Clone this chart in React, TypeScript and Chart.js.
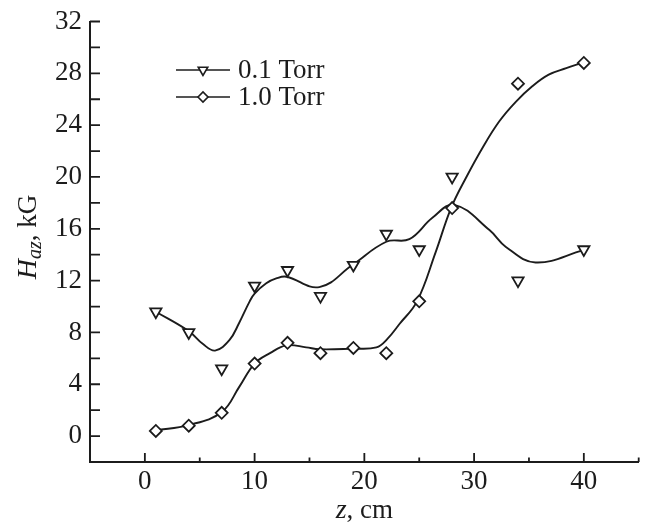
import React, { useEffect, useRef } from "react";
import { Chart, registerables } from "chart.js";

Chart.register(...registerables);

// ---------- data ----------
const SERIES_NAMES = ["0.1 Torr", "1.0 Torr"];
const Z_POINTS = [1, 4, 7, 10, 13, 16, 19, 22, 25, 28, 34, 40];
const H_01 = [9.6, 8.0, 5.2, 11.6, 12.8, 10.8, 13.2, 15.6, 14.4, 20.0, 12.0, 14.4];
const H_10 = [0.4, 0.8, 1.8, 5.6, 7.2, 6.4, 6.8, 6.4, 10.4, 17.6, 27.2, 28.8];

// smooth fit curves
const FIT_01_Z = [1, 4, 5.3, 6.4, 7.7, 8.6, 9.55, 10, 11.06, 11.97, 12.9, 15.9, 18.9, 22, 24.1, 26.2, 28.2, 31.4, 32.9, 35.6, 40];
const FIT_01_H = [9.6, 8.1, 7.1, 6.6, 7.4, 8.75, 10.4, 11.0, 11.8, 12.17, 12.3, 11.5, 13.2, 15.0, 15.2, 16.85, 17.85, 15.9, 14.6, 13.4, 14.35];
const FIT_10_Z = [1, 4, 7, 8.6, 10, 11.4, 12.9, 14.7, 15.9, 18.9, 21.1, 22.1, 23.2, 24.8, 26.5, 27.9, 29.3, 30.8, 32.3, 33.8, 35.3, 36.8, 38.4, 40];
const FIT_10_H = [0.45, 0.85, 1.85, 3.8, 5.6, 6.4, 7.0, 6.85, 6.7, 6.75, 6.85, 7.5, 8.65, 10.4, 14.2, 17.6, 20.0, 22.3, 24.3, 25.8, 27.0, 27.9, 28.4, 28.85];

const X_TICKS = [0, 10, 20, 30, 40];
const X_MINOR = [5, 15, 25, 35, 45];
const Y_TICKS = [0, 4, 8, 12, 16, 20, 24, 28, 32];
const Y_MINOR = [2, 6, 10, 14, 18, 22, 26, 30];
const X_TITLE = ["z", ", cm"];
const Y_TITLE = ["H", "az", ", kG"];

const INK = "#1c1c1c";
const SERIF = "\"Liberation Serif\", \"Times New Roman\", Times, serif";

const zip = (xs: number[], ys: number[]) => xs.map((x, i) => ({ x, y: ys[i] }));

function drawMarker(ctx: CanvasRenderingContext2D, style: string, x: number, y: number, r: number) {
  ctx.beginPath();
  if (style === "triangle") {
    let rad = Math.PI;
    for (let k = 0; k < 3; k++) {
      const px = x + Math.sin(rad) * r;
      const py = y - Math.cos(rad) * r;
      if (k === 0) ctx.moveTo(px, py);
      else ctx.lineTo(px, py);
      rad += (2 * Math.PI) / 3;
    }
  } else {
    ctx.moveTo(x - r, y);
    ctx.lineTo(x, y - r);
    ctx.lineTo(x + r, y);
    ctx.lineTo(x, y + r);
  }
  ctx.closePath();
  ctx.fill();
  ctx.stroke();
}

const decorPlugin = {
  id: "decor",
  afterDraw(chart: any) {
    const ctx = chart.ctx as CanvasRenderingContext2D;
    const xs = chart.scales.x;
    const ys = chart.scales.y;
    const area = chart.chartArea;
    ctx.save();
    ctx.strokeStyle = INK;
    ctx.lineWidth = 1.8;
    ctx.beginPath();
    X_TICKS.forEach((v) => {
      const p = xs.getPixelForValue(v);
      ctx.moveTo(p, area.bottom);
      ctx.lineTo(p, area.bottom - 9);
    });
    X_MINOR.forEach((v) => {
      const p = xs.getPixelForValue(v);
      ctx.moveTo(p, area.bottom);
      ctx.lineTo(p, area.bottom - 4.5);
    });
    Y_TICKS.concat(Y_MINOR).forEach((v) => {
      const p = ys.getPixelForValue(v);
      ctx.moveTo(area.left, p);
      ctx.lineTo(area.left + 10, p);
    });
    ctx.stroke();

    // x title
    ctx.fillStyle = INK;
    ctx.textBaseline = "alphabetic";
    ctx.textAlign = "left";
    const fItal = `italic 28px ${SERIF}`;
    const fReg = `27px ${SERIF}`;
    ctx.font = fItal;
    const w1 = ctx.measureText(X_TITLE[0]).width;
    ctx.font = fReg;
    const w2 = ctx.measureText(X_TITLE[1]).width;
    const cx = (area.left + area.right) / 2;
    const sx = cx - (w1 + w2) / 2;
    ctx.font = fItal;
    ctx.fillText(X_TITLE[0], sx, 518);
    ctx.font = fReg;
    ctx.fillText(X_TITLE[1], sx + w1, 518);

    // y title (rotated)
    const fSub = `italic 20px ${SERIF}`;
    ctx.font = fItal;
    const a = ctx.measureText(Y_TITLE[0]).width;
    ctx.font = fSub;
    const b = ctx.measureText(Y_TITLE[1]).width;
    ctx.font = fReg;
    const c = ctx.measureText(Y_TITLE[2]).width;
    const total = a + b + c;
    ctx.save();
    ctx.translate(36, 237);
    ctx.rotate(-Math.PI / 2);
    let t = -total / 2;
    ctx.font = fItal;
    ctx.fillText(Y_TITLE[0], t, 0);
    t += a;
    ctx.font = fSub;
    ctx.fillText(Y_TITLE[1], t, 5);
    t += b;
    ctx.font = fReg;
    ctx.fillText(Y_TITLE[2], t, 0);
    ctx.restore();

    // legend
    const rows = [70, 97];
    const styles = ["triangle", "rectRot"];
    SERIES_NAMES.forEach((name, i) => {
      const y = rows[i];
      ctx.strokeStyle = INK;
      ctx.lineWidth = 1.6;
      ctx.beginPath();
      ctx.moveTo(176, y);
      ctx.lineTo(230, y);
      ctx.stroke();
      ctx.fillStyle = "#ffffff";
      drawMarker(ctx, styles[i], 203, y, i === 0 ? 5.5 : 5);
      ctx.fillStyle = INK;
      ctx.font = `27px ${SERIF}`;
      ctx.textBaseline = "middle";
      ctx.textAlign = "left";
      ctx.fillText(name, 238, y + 1);
    });
    ctx.restore();
  },
};

export default function App() {
  const ref = useRef<HTMLCanvasElement | null>(null);
  useEffect(() => {
    if (!ref.current) return;
    const chart = new Chart(ref.current, {
      type: "line",
      data: {
        datasets: [
          {
            label: SERIES_NAMES[0],
            data: zip(Z_POINTS, H_01),
            showLine: false,
            pointStyle: "triangle",
            rotation: 180,
            pointRadius: 6.5,
            pointBackgroundColor: "#ffffff",
            pointBorderColor: INK,
            pointBorderWidth: 1.8,
            borderColor: INK,
            order: 0,
          } as any,
          {
            label: SERIES_NAMES[1],
            data: zip(Z_POINTS, H_10),
            showLine: false,
            pointStyle: "rectRot",
            pointRadius: 6,
            pointBackgroundColor: "#ffffff",
            pointBorderColor: INK,
            pointBorderWidth: 1.8,
            borderColor: INK,
            order: 1,
          } as any,
          {
            label: SERIES_NAMES[0] + " fit",
            data: zip(FIT_01_Z, FIT_01_H),
            pointRadius: 0,
            borderColor: INK,
            borderWidth: 1.9,
            tension: 0.4,
            fill: false,
            order: 2,
          } as any,
          {
            label: SERIES_NAMES[1] + " fit",
            data: zip(FIT_10_Z, FIT_10_H),
            pointRadius: 0,
            borderColor: INK,
            borderWidth: 1.9,
            tension: 0.4,
            fill: false,
            order: 3,
          } as any,
        ],
      },
      options: {
        animation: false,
        responsive: true,
        maintainAspectRatio: false,
        layout: { padding: { top: 15, right: 5, left: 0, bottom: 0 } },
        plugins: { legend: { display: false }, tooltip: { enabled: false } },
        scales: {
          x: {
            type: "linear",
            min: -5,
            max: 45,
            grid: { display: false, drawTicks: false },
            border: { display: true, color: INK, width: 2 },
            afterBuildTicks: (s: any) => {
              s.ticks = X_TICKS.map((v) => ({ value: v }));
            },
            afterFit: (s: any) => {
              s.height = 65;
            },
            ticks: {
              color: INK,
              padding: 6,
              maxRotation: 0,
              font: { family: SERIF, size: 27, lineHeight: 1 },
            },
          },
          y: {
            type: "linear",
            min: -2,
            max: 32,
            grid: { display: false, drawTicks: false },
            border: { display: true, color: INK, width: 2 },
            afterBuildTicks: (s: any) => {
              s.ticks = Y_TICKS.map((v) => ({ value: v }));
            },
            afterFit: (s: any) => {
              s.width = 90;
            },
            ticks: {
              color: INK,
              padding: 8,
              font: { family: SERIF, size: 27, lineHeight: 1 },
            },
          },
        },
      } as any,
      plugins: [decorPlugin],
    });
    return () => chart.destroy();
  }, []);
  return (
    <div style={{ position: "fixed", left: 0, top: 0, width: 647, height: 527, background: "#fff" }}>
      <canvas ref={ref} />
    </div>
  );
}
